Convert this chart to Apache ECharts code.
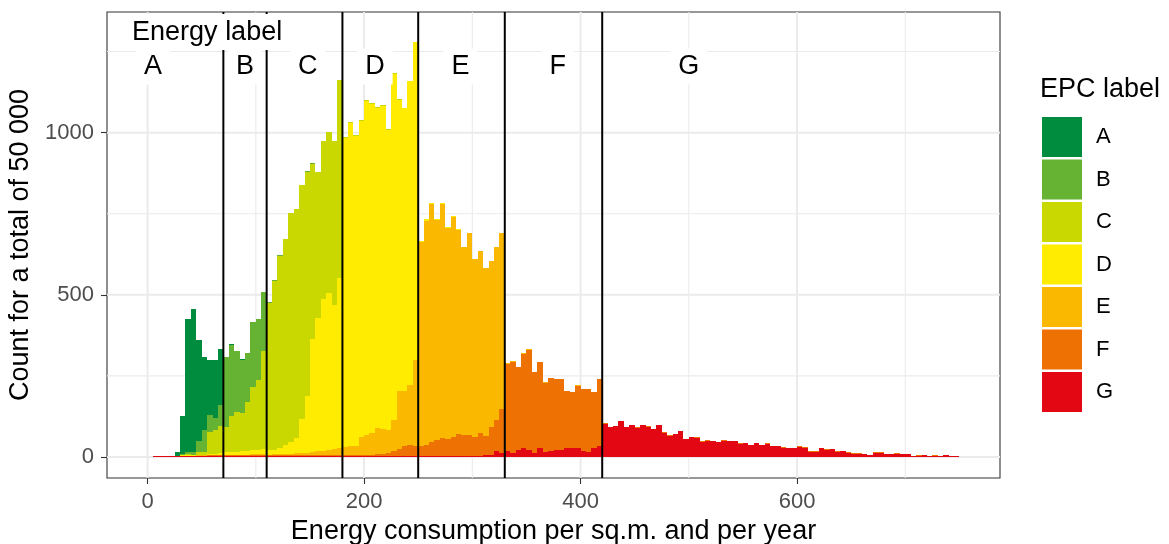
<!DOCTYPE html>
<html><head><meta charset="utf-8">
<script src="https://cdn.jsdelivr.net/npm/echarts@6/dist/echarts.min.js"></script>
<style>html,body{margin:0;padding:0;background:#fff}#c{width:1169px;height:544px}</style>
</head><body><div id="c"></div>
<script>
// ---------- data ----------
const epcLabels = ['A','B','C','D','E','F','G'];
const epcColors = ['#008C3F','#66B334','#C9D800','#FFEC00','#FBB800','#EE7203','#E30613'];
const binStart = 0;
const binWidth = 5;
// counts per 5-unit bin, starting at 0 (150 bins: 0..750)
const countsA = [
0,0,0,0,0,14,119,412,443,311,
225,170,179,172,0,3,0,3,0,0,
0,0,0,0,0,0,0,0,0,0, 0,0,0,0,0,0,0,0,0,0,
0,0,0,0,0,0,0,0,0,0, 0,0,0,0,0,0,0,0,0,0,
0,0,0,0,0,0,0,0,0,0, 0,0,0,0,0,0,0,0,0,0,
0,0,0,0,0,0,0,0,0,0, 0,0,0,0,0,0,0,0,0,0,
0,0,0,0,0,0,0,0,0,0, 0,0,0,0,0,0,0,0,0,0,
0,0,0,0,0,0,0,0,0,0, 0,0,0,0,0,0,0,0,0,0,
0,0,0,0,0,0,0,0,0,0];
const countsB = [
0,0,0,0,0,0,3,6,7,36,
70,52,35,65,218,220,188,166,151,198,
190,181,3,2,1,0,0,0,0,2,
3,0,0,0,0,0,0,0,0,0,
0,0,0,0,0,0,0,0,0,0, 0,0,0,0,0,0,0,0,0,0,
0,0,0,0,0,0,0,0,0,0, 0,0,0,0,0,0,0,0,0,0,
0,0,0,0,0,0,0,0,0,0, 0,0,0,0,0,0,0,0,0,0,
0,0,0,0,0,0,0,0,0,0, 0,0,0,0,0,0,0,0,0,0,
0,0,0,0,0,0,0,0,0,0, 0,0,0,0,0,0,0,0,0,0,
0,0,0,0,0,0,0,0,0,0];
const countsC = [
0,0,0,0,0,0,2,4,3,8,
8,69,74,84,76,109,123,117,152,197,
214,304,453,520,591,637,706,707,721,691,
540,451,488,496,505,610,3,4,3,2,
2,1,1,1,1,1,1,0,0,0,
0,0,0,0,0,0,0,0,0,0, 0,0,0,0,0,0,0,0,0,0,
0,0,0,0,0,0,0,0,0,0, 0,0,0,0,0,0,0,0,0,0,
0,0,0,0,0,0,0,0,0,0, 0,0,0,0,0,0,0,0,0,0,
0,0,0,0,0,0,0,0,0,0, 0,0,0,0,0,0,0,0,0,0,
0,0,0,0,0,0,0,0,0,0];
const countsD = [
0,0,0,0,0,0,1,2,2,3,
3,5,6,7,8,9,9,10,11,12,
14,16,15,14,20,27,36,47,106,176,
348,412,468,484,445,524,952,996,957,974,
1031,1013,987,995,927,1069,898,874,936,978,
2,4,1,1,1,1,4,1,0,0,
0,0,0,0,0,0,0,0,0,0, 0,0,0,0,0,0,0,0,0,0,
0,0,0,0,0,0,0,0,0,0, 0,0,0,0,0,0,0,0,0,0,
0,0,0,0,0,0,0,0,0,0, 0,0,0,0,0,0,0,0,0,0,
0,0,0,0,0,0,0,0,0,0, 0,0,0,0,0,0,0,0,0,0];
const countsE = [
0,0,0,0,0,0,0,0,0,1,
1,1,1,2,3,3,3,3,3,4,
4,4,3,4,4,5,6,6,7,8,
10,12,14,16,19,22,25,28,27,55,
61,67,80,77,70,96,177,169,185,267,
631,693,732,679,722,651,677,627,579,622,
549,561,517,512,535,542,2,1,0,1,
3,0,0,2,0,0,0,0,0,3,
0,0,0,0,0,0,0,0,0,0, 0,0,0,0,0,0,0,0,0,0,
0,0,0,0,0,0,0,0,0,0, 0,0,0,0,0,0,0,0,0,0,
0,0,0,0,0,0,0,0,0,0, 0,0,0,0,0,0,0,0,0,0,
0,0,0,0,0,0,0,0,0,0];
const countsF = [
0,0,0,0,0,0,0,0,0,0,
0,1,1,1,2,2,2,2,2,2,
2,2,2,2,2,2,2,3,3,3,
3,3,3,4,4,4,3,3,4,4,
5,5,6,5,10,15,23,31,36,31,
31,34,45,49,55,52,60,70,67,67,
60,73,61,88,94,136,268,280,256,291,
308,250,268,213,225,219,219,175,173,194,
191,194,175,206,3,0,0,0,0,0,
2,0,1,0,0,2,2,0,0,0,
0,2,2,2,0,0,2,0,0,2,
0,0,0,0,2,0,0,2,0,0,
3,2,3,3,0,2,0,2,0,2,
3,3,0,0,3,3,0,0,3,0,
0,0,3,0,0,4,0,0,0,0];
const countsG = [
0,2,2,2,2,2,2,2,2,2,
2,2,2,2,2,2,2,2,2,2,
2,2,2,2,2,2,2,2,2,2,
2,2,2,2,2,2,2,2,2,2,
2,2,2,4,2,2,2,2,2,2,
2,2,2,2,2,2,2,2,2,2,
2,2,5,5,19,13,19,13,22,26,
22,13,26,16,19,22,22,29,26,26,
19,16,26,35,102,93,96,110,93,99,
88,99,92,85,99,73,63,72,81,56,
62,57,45,48,50,47,48,50,50,39,
44,38,44,38,39,35,35,27,26,29,
32,27,16,16,29,21,23,14,19,11,
10,10,10,7,13,13,10,10,10,10,
10,4,4,7,4,3,4,7,4,4];
const cutoffs = [70,110,180,250,330,420];
const bandNames = ['A','B','C','D','E','F','G'];
const bandX = [5,90,148,210,289,379,500];
const bandY = 1204;
const headerText = 'Energy label';
const headerX = 55;
const headerY = 1310;
const xMajor = [0,200,400,600];
const xMinor = [100,300,500,700];
const yMajor = [0,500,1000];
const yMinor = [250,750,1250];
const X_MIN = -37.5, X_MAX = 787.5, Y_MIN = -65, Y_MAX = 1372;

// ---------- build ----------
const FONT = 'Liberation Sans, Arial, sans-serif';
const countsBy = {A:countsA,B:countsB,C:countsC,D:countsD,E:countsE,F:countsF,G:countsG};
const stackOrder = ['G','F','E','D','C','B','A'];
const nBins = countsA.length;
const base = new Array(nBins).fill(0);
const stacked = {};
stackOrder.forEach(l => {
  const arr = [];
  countsBy[l].forEach((c, i) => {
    const b = base[i];
    base[i] += c;
    if (c > 0) arr.push([binStart + i * binWidth, b, b + c]);
  });
  stacked[l] = arr;
});

function renderBar(params, api) {
  const x0 = api.value(0), y0 = api.value(1), y1 = api.value(2);
  const p0 = api.coord([x0, y0]);
  const p1 = api.coord([x0 + binWidth, y1]);
  const xl = Math.round(p0[0]), xr = Math.round(p1[0]);
  const yb = Math.round(p0[1]);
  let yt = Math.round(p1[1]);
  if (yt >= yb) yt = yb - 1;
  return {type:'rect', shape:{x:xl, y:yt, width:xr-xl, height:yb-yt},
          style:{fill: api.visual('color')}};
}
const gridData = [];
xMinor.forEach(v => gridData.push([v,1,0]));
yMinor.forEach(v => gridData.push([v,0,0]));
xMajor.forEach(v => gridData.push([v,1,1]));
yMajor.forEach(v => gridData.push([v,0,1]));
function renderGrid(params, api) {
  const v = api.value(0), vert = api.value(1) === 1, major = api.value(2) === 1;
  let p0, p1;
  if (vert) { p0 = api.coord([v, Y_MIN]); p1 = api.coord([v, Y_MAX]); }
  else { p0 = api.coord([X_MIN, v]); p1 = api.coord([X_MAX, v]); }
  return {type:'line', shape:{x1:p0[0],y1:p0[1],x2:p1[0],y2:p1[1]},
          style:{stroke:'#EBEBEB', lineWidth: major ? 2 : 1.1}};
}
function renderCut(params, api) {
  const v = api.value(0);
  const p0 = api.coord([v, Y_MIN]), p1 = api.coord([v, Y_MAX]);
  return {type:'line', shape:{x1:p0[0],y1:p0[1],x2:p1[0],y2:p1[1]}, style:{stroke:'#000', lineWidth:2}};
}
const textItems = [[headerX, headerY]].concat(bandX.map(x => [x, bandY]));
const textStrings = [headerText].concat(bandNames);
function renderText(params, api) {
  const p = api.coord([api.value(0), api.value(1)]);
  return {type:'text', x:p[0], y:p[1],
    style:{text: textStrings[params.dataIndex], fontSize:27, fontFamily:FONT, fill:'#000',
      align:'center', verticalAlign:'middle', backgroundColor:'#fff', padding:[3,8,3,8], lineHeight:30}};
}

const series = [
  {type:'custom', name:'grid', renderItem:renderGrid, data:gridData, z:1, silent:true, encode:{x:0,y:1}},
];
epcLabels.forEach((l, i) => {
  series.push({type:'custom', name:l, renderItem:renderBar, data:stacked[l], z:2, silent:true,
    encode:{x:0, y:[1,2]}, itemStyle:{color: epcColors[i]}});
});
series.push({type:'custom', name:'cut', renderItem:renderCut, data:cutoffs.map(v=>[v,0]), z:3, silent:true, encode:{x:0,y:1}});
series.push({type:'custom', name:'txt', renderItem:renderText, data:textItems, z:4, silent:true, encode:{x:0,y:1}});

const chart = echarts.init(document.getElementById('c'), null, {renderer:'canvas'});
chart.setOption({
  animation:false,
  textStyle:{fontFamily:FONT},
  title:{text:'EPC label', left:1040, top:76, padding:0,
    textStyle:{fontSize:27, fontWeight:'normal', color:'#000', fontFamily:FONT}},
  legend:{orient:'vertical', left:1042, top:117, padding:0, itemWidth:40, itemHeight:40, itemGap:2.5,
    icon:'rect', selectedMode:false, data:epcLabels,
    textStyle:{fontSize:22, color:'#000', fontFamily:FONT, padding:[0,0,0,9]}},
  grid:{left:107, top:12, width:893, height:466, containLabel:false, outerBoundsMode:'none',
    show:true, borderColor:'#333', borderWidth:1.1, backgroundColor:'#fff'},
  xAxis:{type:'value', min:X_MIN, max:X_MAX,
    axisLine:{show:false, onZero:false}, splitLine:{show:false},
    axisTick:{show:true, customValues:xMajor, length:6, lineStyle:{color:'#333', width:1.1}},
    axisLabel:{customValues:xMajor, fontSize:22, color:'#4D4D4D', margin:13, fontFamily:FONT,
      formatter: v => String(v)},
    name:'Energy consumption per sq.m. and per year', nameLocation:'middle', nameGap:37,
    nameTextStyle:{fontSize:27, color:'#000', fontFamily:FONT}},
  yAxis:{type:'value', min:Y_MIN, max:Y_MAX,
    axisLine:{show:false, onZero:false}, splitLine:{show:false},
    axisTick:{show:true, customValues:yMajor, length:6, lineStyle:{color:'#333', width:1.1}},
    axisLabel:{customValues:yMajor, fontSize:22, color:'#4D4D4D', margin:13, fontFamily:FONT,
      formatter: v => String(v)},
    name:'Count for a total of 50 000', nameLocation:'middle', nameGap:64, nameRotate:90,
    nameTextStyle:{fontSize:27, color:'#000', fontFamily:FONT}},
  series: series
});
</script>
</body></html>
